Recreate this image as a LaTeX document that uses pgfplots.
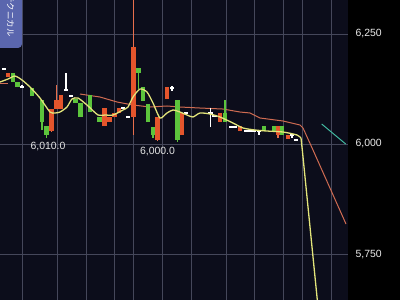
\documentclass[border=0pt]{standalone}
\usepackage{pgfplots}
\usepackage{pgfplotstable}
\pgfplotsset{compat=1.18}
\usepackage{fontspec}
\setmainfont{Liberation Sans}
\newfontfamily\jpfont{Noto Sans CJK JP}
\definecolor{bg}{HTML}{0C0D1B}
\definecolor{gridc}{HTML}{45475A}
\definecolor{redc}{HTML}{E4552C}
\definecolor{greenc}{HTML}{5CC43C}
\definecolor{yellowc}{HTML}{E2E47A}
\definecolor{orangec}{HTML}{D06C52}
\definecolor{tealc}{HTML}{42B8A0}
\definecolor{tabc}{HTML}{5A66AE}

\pgfplotstableread{
x top bot hi lo
8 6161.4 6152.3 6161.4 6152.3
51.5 6079.5 6029.5 6079.5 6027.3
56.5 6100.0 6079.5 6134.1 6079.5
61 6111.4 6079.5 6111.4 6079.5
104.5 6081.8 6040.9 6081.8 6040.9
109.5 6061.4 6050.0 6061.4 6050.0
114.5 6070.5 6061.4 6070.5 6061.4
119 6081.8 6070.5 6081.8 6070.5
133.5 6220.5 6061.4 6340.0 6020.5
157.5 6061.4 6009.1 6061.4 6006.8
167 6129.5 6102.3 6129.5 6102.3
182 6070.5 6020.5 6070.5 6020.5
220 6070.5 6050.0 6070.5 6050.0
240 6040.9 6029.5 6040.9 6029.5
278 6040.9 6020.5 6040.9 6013.6
288 6020.5 6011.4 6020.5 6011.4
}\redtab

\pgfplotstableread{
x top bot hi lo
13 6161.4 6140.9 6161.4 6140.9
17.5 6140.9 6129.5 6140.9 6129.5
32 6127.3 6109.1 6127.3 6109.1
42 6100.0 6050.0 6100.0 6031.8
46.5 6040.9 6020.5 6040.9 6013.6
75.5 6102.3 6093.2 6102.3 6093.2
80.5 6093.2 6061.4 6093.2 6061.4
90 6111.4 6072.7 6111.4 6072.7
99.5 6061.4 6050.0 6061.4 6050.0
138.5 6172.7 6161.4 6172.7 6125.0
143 6129.5 6097.7 6129.5 6097.7
148 6090.9 6050.0 6090.9 6050.0
153 6038.6 6020.5 6038.6 6013.6
177.5 6100.0 6009.1 6100.0 6004.5
225 6070.5 6050.0 6100.0 6050.0
264 6040.9 6029.5 6040.9 6029.5
274 6040.9 6029.5 6040.9 6029.5
282 6040.9 6020.5 6040.9 6020.5
}\greentab

\pgfplotstableread{
x y hi lo
4 6170.5 6170.5 6170.5
22 6129.5 6134.1 6127.3
66 6122.7 6161.4 6122.7
71 6109.1 6109.1 6109.1
123 6081.8 6081.8 6081.8
128 6061.4 6061.4 6061.4
172 6127.3 6131.8 6120.5
186 6070.5 6070.5 6070.5
210.5 6070.5 6081.8 6038.6
214.5 6063.6 6063.6 6063.6
231 6038.6 6038.6 6038.6
235 6038.6 6038.6 6038.6
246 6029.5 6029.5 6029.5
250 6029.5 6029.5 6029.5
254 6029.5 6029.5 6029.5
259 6029.5 6029.5 6020.5
292 6020.5 6020.5 6013.6
296 6009.1 6009.1 6009.1
}\dojitab

\begin{document}
\begin{tikzpicture}[x=1bp,y=1bp]
\useasboundingbox (0,0) rectangle (400,300);
\fill[bg] (0,0) rectangle (348,300);
\fill[black] (348,0) rectangle (400,300);
\begin{axis}[at={(0,0)}, anchor=south west,
  width=348bp, height=300bp, scale only axis,
  xmin=0, xmax=348, ymin=5645.5, ymax=6327.3,
  axis line style={draw=none},
  major tick length=0pt,
  xtick={22,57,86,114,133,162,191,226,254,283,302,331},
  xticklabels={},
  ytick={5750,6000,6250},
  yticklabels={{5,750},{6,000},{6,250}},
  yticklabel pos=right,
  yticklabel style={font=\fontsize{10.5}{12}\selectfont, text=white!92!black, anchor=west, xshift=4bp},
  xmajorgrids, ymajorgrids,
  major grid style={draw=gridc, line width=0.8bp},
]
% moving averages
\addplot[orangec, line width=1bp] coordinates {(0,6138.6) (8,6138.6)};
\addplot[orangec, line width=1bp] coordinates {
(80,6113.6) (100,6106.8) (117,6095.5) (133,6088.6) (150,6084.1) (167,6086.4)
(180,6084.1) (200,6081.8) (223,6079.5) (240,6072.7) (250,6070.5) (260,6059.1)
(283,6052.3) (300,6043.2) (303,6036.4) (313,5986.4) (346,5818.2)};
\addplot[tealc, line width=1bp] coordinates {(321.7,6045.5) (345.7,6000)};
% candle wicks
\addplot[draw=none, mark=none, error bars/.cd, y dir=plus, y explicit, error mark=none,
  error bar style={draw=redc!85!white, line width=1.2bp}]
  table[x=x, y=lo, y error plus expr=\thisrow{hi}-\thisrow{lo}] {\redtab};
\addplot[draw=none, mark=none, error bars/.cd, y dir=plus, y explicit, error mark=none,
  error bar style={draw=greenc, line width=1.1bp}]
  table[x=x, y=lo, y error plus expr=\thisrow{hi}-\thisrow{lo}] {\greentab};
\addplot[draw=none, mark=none, error bars/.cd, y dir=plus, y explicit, error mark=none,
  error bar style={draw=white, line width=1.1bp}]
  table[x=x, y=lo, y error plus expr=\thisrow{hi}-\thisrow{lo}] {\dojitab};
% candle bodies
\addplot[draw=none, mark=none, error bars/.cd, y dir=plus, y explicit, error mark=none,
  error bar style={draw=redc, line width=4.5bp}]
  table[x=x, y=bot, y error plus expr=\thisrow{top}-\thisrow{bot}] {\redtab};
\addplot[draw=none, mark=none, error bars/.cd, y dir=plus, y explicit, error mark=none,
  error bar style={draw=greenc, line width=4.5bp}]
  table[x=x, y=bot, y error plus expr=\thisrow{top}-\thisrow{bot}] {\greentab};
\addplot[draw=none, mark=none, error bars/.cd, x dir=both, x fixed=2.3, error mark=none,
  error bar style={draw=white, line width=1.4bp}]
  table[x=x, y=y] {\dojitab};
% short MA
\addplot[yellowc, line width=1.3bp, smooth, tension=0.4] coordinates {
(0,6140.9) (8,6147.7) (15,6154.5) (22,6145.5) (30,6129.5) (40,6104.5) (50,6072.7)
(55,6070.5) (60,6072.7) (67,6084.1) (72,6102.3) (78,6104.5) (87,6088.6) (98,6065.9)
(105,6065.9) (113,6065.9) (123,6077.3) (128,6084.1) (133,6106.8) (140,6125.0)
(147,6118.2) (153,6093.2) (160,6059.1) (167,6070.5) (173,6077.3) (180,6072.7)
(187,6065.9) (193,6061.4) (200,6070.5) (210,6068.2) (220,6061.4) (233,6047.7)
(243,6036.4) (255,6031.8) (267,6029.5) (283,6027.3) (297,6020.5) (301,6013.6)};
\addplot[yellowc, line width=1.3bp] coordinates {(301,6013.6) (302.3,5986.4) (317.3,5645.5)};
% price markers
\node[text=white!90!black, font=\fontsize{10.5}{12}\selectfont] at (axis cs:48,5994) {6,010.0};
\node[text=white!90!black, font=\fontsize{10.5}{12}\selectfont] at (axis cs:157.5,5983) {6,000.0};
\end{axis}
\begin{scope}
\clip (0,0) rectangle (400,300);
\fill[tabc, rounded corners=4bp] (-6,252) rectangle (22,310);
\node[rotate=-90, anchor=east, inner sep=0pt, text=white, font=\jpfont\fontsize{8.5}{9}\selectfont] at (10.5,263) {テクニカル};
\end{scope}
\end{tikzpicture}
\end{document}
